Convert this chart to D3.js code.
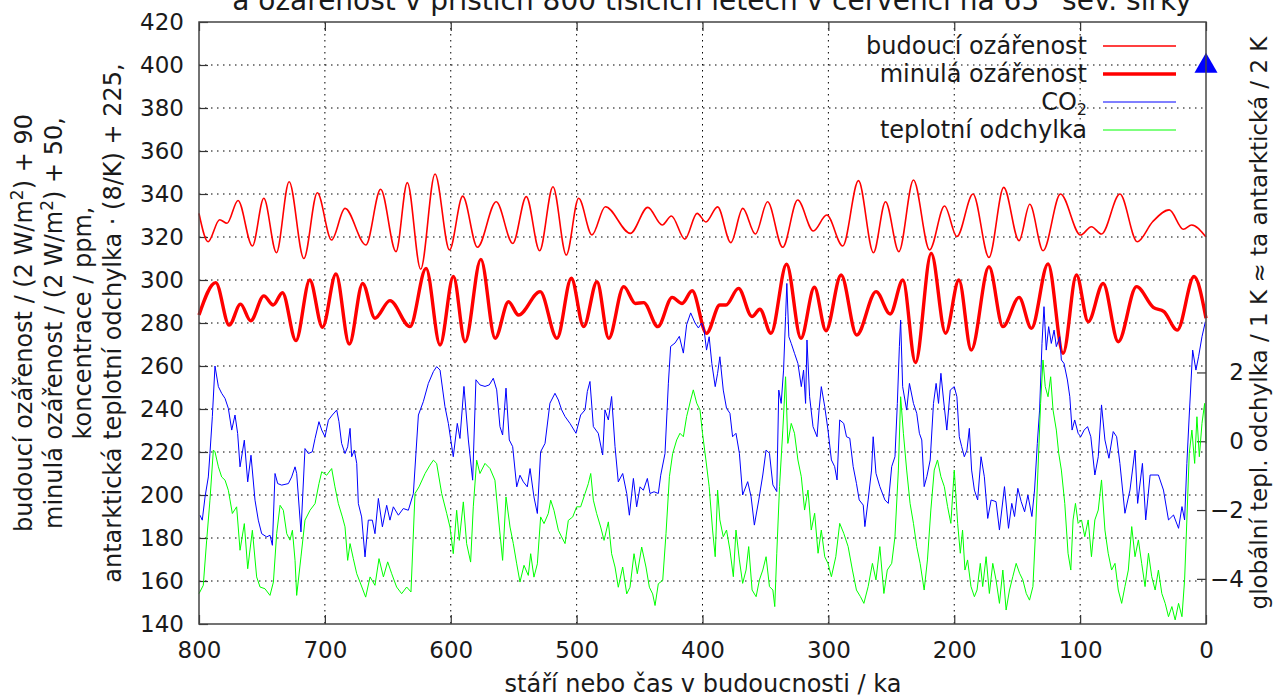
<!DOCTYPE html>
<html lang="cs">
<head>
<meta charset="utf-8">
<title>Ozářenost, CO2 a teplota</title>
<script src="https://d3js.org/d3.v7.min.js"></script>
<style>
  body { margin: 0; background: #fff; }
  svg text { font-family: "DejaVu Sans", sans-serif; fill: #1a1a1a; }
</style>
</head>
<body>
<script>
// ---- data (x = ka, y = value in left-axis units) ----
var xTicks = [800, 700, 600, 500, 400, 300, 200, 100, 0];
var yTicks = [140, 160, 180, 200, 220, 240, 260, 280, 300, 320, 340, 360, 380, 400, 420];
var y2Ticks = [-4, -2, 0, 2];

// budoucí ozářenost / (2 W/m2) + 90
var futureIns = [[800,331],[792.8,317.8],[783.6,328],[777.7,326.4],[769,337],[757.6,315.8],[748.5,338],[738.5,312.7],
  [728.4,345.7],[716.7,310],[706,340.6],[694.7,318.6],[684,333.3],[667.4,316.3],[655.7,342.2],[643.5,313.2],
  [634.5,345.3],[623.9,305],[612.5,349.3],[601,314],[590.5,339],[578.8,315.2],[563.9,336.4],[550.7,317],
  [540,338.8],[529.4,313.6],[518.8,343.4],[508.2,311.6],[498.4,338],[487.8,321],[477.2,334.1],[457.3,321.7],
  [443.5,333.8],[432,325.6],[424.7,329.8],[414,319],[404.3,331],[397.3,327],[388,334],[377.5,317.4],
  [368,333.3],[358,321.4],[348.3,336.4],[336.3,315.2],[324.4,337.2],[312,322.8],[301.3,330.2],[288.6,315.8],
  [276.1,346.2],[264.2,312.7],[254.6,336.4],[244,313.2],[232.4,346.5],[219.6,314],[207.7,334.4],[197.9,320.2],
  [185.1,340],[172.4,310.5],[160.7,343.1],[148.5,318.3],[140,335.2],[129.4,313.6],[115.6,340],[99.7,320.9],
  [91,324.8],[83,321.4],[68.4,340],[54.6,317.8],[42.4,327.1],[29.2,332.6],[18,323.6],[11.4,325.6],[0,320]];

// minulá ozářenost / (2 W/m2) + 50
var pastIns = [[800,283.7],[786.7,298.8],[776,279],[767,288.8],[759,281],[748.5,292.6],[741,288.4],[733.7,294.1],
  [723,271.8],[712,300],[701.9,278],[691.2,302.8],[680.6,270.2],[670,298.4],[660.2,282.2],[648.3,290.4],
  [632.4,278.3],[619.6,305.4],[608.5,269.8],[597.9,301.6],[588.6,271.3],[576.1,309.6],[564.7,272.9],[554.1,289.9],
  [546.2,283.7],[529,294.6],[515.6,272.9],[504.2,300.8],[494.4,278.3],[483.8,299.2],[474.5,272.9],[462.6,296.9],
  [453.3,289.1],[446.7,289.5],[435.5,278.3],[424.1,291.9],[416.2,289.1],[408.2,295],[396.8,275.2],[386.2,288.4],
  [381.4,288.4],[371.4,296.1],[360.7,283],[354.4,286.4],[345.6,275.2],[333.2,307.3],[321.8,272.9],[311.1,296.6],
  [301.9,276.4],[289.9,302.3],[277.5,274.4],[262.1,294.6],[250.9,284.2],[240.8,300],[230.8,261.6],[218.3,312.4],
  [206.9,275.2],[196.3,300],[186.5,267.4],[172.4,306.2],[161.3,278.3],[148.5,291.9],[138.7,277.5],[125.5,307.5],
  [113.5,265.9],[102.9,302.3],[93.6,280.6],[81.7,298.4],[69.7,271.3],[55.2,296.9],[41.9,287.3],[33.4,285.3],
  [22.8,276.7],[9.5,301.6],[0,282.2]];

// CO2 / ppm
var co2 = [[799.2,190.6],[797.4,188.3],[795.2,199.1],[792.6,208.4],[791.3,219.3],[789.4,236.4],[787.3,260],[784.6,250.4],
  [782,247.3],[779.3,244.9],[776.7,240.3],[774,230.2],[771.4,237.2],[769.3,228.6],[767.4,213.1],[764,225.5],
  [761.3,206.1],[758.7,218.5],[755.5,197.6],[752.9,188.3],[750.2,182],[746.2,180.5],[743.6,181.3],[741.7,176.6],
  [739.6,210],[737.5,205.3],[734.3,204.6],[729,205.3],[726.4,208.4],[723.7,213.1],[722.4,210],[719,182.8],
  [715.8,221.6],[713.1,219.3],[710,220.1],[707.8,226.3],[704.7,234.1],[702.5,230.2],[699.9,227.1],[697.2,234.8],
  [694.1,237.2],[690.6,239.5],[688.8,234.1],[686.7,224],[684,219.3],[681.9,222.4],[680,231],[678.7,217.8],
  [676.6,220.9],[674.7,214.7],[673.4,196],[670.8,189.8],[668.1,171.2],[665.5,188.3],[662.3,188.3],[660.2,182],
  [657.5,198.4],[654.3,185.2],[650.9,195.2],[648.3,188.3],[645.6,194.5],[641.6,190.6],[637.7,193.7],[633.7,192.9],
  [629.7,200.7],[625.7,237.2],[621.8,243.4],[617.8,251.9],[613.8,257.4],[611.2,259.7],[608.5,258.1],[604.6,241.1],
  [601.9,233.3],[598,217.8],[594.8,233.3],[592.7,226.3],[589.5,250.5],[586,225.6],[582.6,206.9],[580,253.6],
  [576.8,251.2],[572.8,250.5],[569.4,251.2],[566.2,254.3],[563.5,248.9],[560.9,231.8],[558.8,227.9],[556.1,249.7],
  [553.5,225.6],[550.8,222.5],[547.6,203.8],[545,209.2],[542.3,206.1],[539.2,203.8],[537,212.3],[533.9,199.1],
  [531.2,191.4],[528.6,220.1],[525.1,224],[521.2,242.7],[517.2,247.3],[514.5,244.2],[511.9,239.6],[509.2,236.5],
  [505.3,233.3],[500.5,228.7],[496.8,237.2],[493.3,239.6],[491.5,248.1],[489.4,252.8],[486.7,231.8],[482.8,228.7],
  [479.3,218.6],[477.5,239.6],[474.8,234.9],[472.2,245.8],[469.5,222.5],[466.9,206.1],[463.4,210],[460.2,200.7],
  [458.1,190.6],[454.9,207.7],[452.3,194.5],[449.6,203.8],[447,202.2],[443.8,207.7],[441.7,200.7],[438.5,201.5],
  [435.1,200.7],[433.2,209.2],[429.8,219.3],[427.1,252],[425.3,269.1],[421.8,270.7],[418.4,273.8],[415.2,266],
  [412.6,279.2],[409.4,284.7],[405.9,280],[403.3,277.7],[400.7,280],[398.7,276.7],[396.8,267.4],[394.7,273.6],
  [392.6,261.2],[389.9,250.4],[388,256.6],[386.2,264.3],[383.5,248.8],[380.9,240.3],[378.2,238],[376.1,227.1],
  [373.4,228.7],[370.7,219.4],[368.1,200],[364.1,206.2],[361.4,199.2],[358.8,186],[355.3,197.7],[352.1,209.3],
  [349.5,220.9],[346.8,219.4],[344.1,204.7],[341,201.6],[339.4,248.8],[337.5,242.6],[335.6,258.1],[334,282.9],
  [333,298.4],[331.4,273.6],[329.5,270.5],[326.9,265.9],[324.2,261.2],[321.5,250.4],[319.7,258.1],[318.1,242.6],
  [317,272.1],[314.9,245.7],[312.2,231.8],[309,227.1],[307.4,239.5],[305.6,250.4],[302.9,241.1],[300.3,230.2],
  [297.6,216.3],[295,213.2],[293.1,207],[291,234.9],[287.8,233.3],[285.6,227.1],[283,226.4],[280.3,213.2],
  [277.7,205.4],[275.5,197.7],[272.3,195.3],[271,185.3],[268.4,197.7],[265.7,211.6],[264.4,227.1],[262.2,210.1],
  [259.1,203.9],[255.1,197.7],[252.4,196.1],[249.7,213.2],[247.1,217.8],[245.2,242.6],[243.6,269],[242.6,281.4],
  [241,250.4],[237.8,239.5],[235.6,251.9],[232.4,242.6],[229.8,238],[227.7,228.7],[225.8,225.6],[223.9,203.9],
  [221.8,208.5],[219.1,216.3],[216.5,242.6],[214.4,251.9],[212.5,242.6],[210.6,256.6],[208.5,244.2],[205.9,230.2],
  [203.2,248.8],[200,250.4],[197.9,245.7],[196,227.1],[194.1,222.5],[192,217.8],[189.9,220.9],[188,231],
  [186.2,211.6],[184,202.3],[181.4,197.7],[178.7,217.8],[176.1,208.5],[173.4,189.1],[170.7,197.7],[166.8,196.9],
  [164.1,183.7],[160.1,203.9],[156.9,184.5],[154.3,196.1],[152.1,190],[149.5,203.1],[146.8,196.9],[144.1,192.2],
  [141.5,200],[138.3,190],[136.2,202.3],[134,224],[132.2,239.5],[130.3,270.5],[128.7,287.6],[126.9,267.4],
  [125,278.3],[122.9,270.5],[120.7,276.7],[118.9,269],[116.2,273.6],[114.9,262.8],[112.8,261.2],[110.1,253.5],
  [108.2,245.7],[106.4,230.2],[104.3,234.9],[101.6,228.7],[99.5,227.1],[96.8,230.2],[94.1,231.8],[91.5,227.1],
  [88.3,209.3],[85.6,217.8],[83,241.9],[80.3,225.6],[77.1,217.1],[73.7,229.5],[71,227.1],[68.4,214.7],
  [64.4,191.5],[60.4,202.3],[56.4,220.9],[54.3,196.1],[50.5,214.7],[47.9,188.4],[44.4,209.3],[37.8,209.3],
  [33.8,202.3],[29.8,188.4],[25.8,190.7],[21.8,184.5],[19.1,194.6],[17,188.4],[15.2,214.7],[13.3,237.2],
  [10.6,267.4],[8,258.1],[5.9,264.3],[3.2,273.6],[0.5,280.6]];

// dnešní CO2 (trojúhelník)
var co2Now = [[0, 400]];

// antarktická teplotní odchylka * (8/K) + 225
var temp = [[800,154.1],[796.6,158],[793.9,179],[791.3,197.6],[788.6,220.9],[787.3,220.1],[784.6,213.1],[782,208.4],
  [779.3,206.9],[776.7,202.2],[773.5,191.4],[770.1,194.5],[767.4,174.3],[764,186.7],[761.3,165.7],[757.6,183.6],
  [754.2,161.9],[751.5,157.2],[747.6,156.4],[743.6,153.3],[740.9,159.5],[738.3,182],[735.6,195.2],[733,192.9],
  [730.3,182],[727.7,179],[725.8,183.6],[723.7,169.6],[722.4,153.3],[719,171.2],[715.8,188.3],[711.8,192.9],
  [707.8,196],[704.7,205.3],[702.5,210.8],[698.6,209.2],[694.6,212.3],[692,203.8],[689.3,196],[686.1,189.8],
  [684,185.2],[681.9,169.6],[680,177.4],[677.4,170.4],[674.7,163.4],[672.1,159.5],[667.6,152.5],[664.1,161.9],
  [660.2,158],[657,170.4],[653.5,161.9],[650.1,168.9],[646.9,163.4],[643,157.2],[639,154.1],[635,157.2],
  [631.6,154.9],[628.4,200.7],[625.2,203.8],[620.4,210],[616.5,213.9],[613.8,216.2],[611.2,214.7],[607.2,200.7],
  [603.2,191.4],[600.6,185.1],[598,172.7],[595.3,192.9],[593.2,178.9],[590,196.8],[587.4,177.4],[584.2,168.8],
  [582.1,194.5],[579.4,216.2],[576.8,210],[572.8,214.7],[568.8,212.3],[564.9,206.9],[561.4,185.1],[558.8,169.6],
  [556.1,199.1],[552.9,185.1],[550.3,177.4],[547.6,168],[545,159.5],[541.8,167.3],[538.4,162.6],[536.5,172.7],
  [533.9,161.8],[531.2,168],[528.6,189.8],[525.9,186.7],[522.5,191.4],[520.6,197.6],[518,192.9],[514.5,183.6],
  [511.9,180.5],[509.2,177.4],[506.6,188.2],[503.1,189.8],[500,194.5],[496.8,194.5],[493.3,200.7],[490.7,205.3],
  [488.8,210],[486.7,197.6],[484.1,191.4],[480.9,185.1],[478.2,178.9],[474.8,187.5],[472.2,172.7],[469.5,166.5],
  [466.9,157.1],[463.4,166.5],[460.2,154],[457.6,157.1],[454.4,172.7],[451.8,163.4],[448.3,175.8],[444.9,166.5],
  [442.2,157.1],[439.6,154],[437.7,148.6],[435.1,158.7],[431.6,160.3],[429,182],[426.3,208.5],[423.7,219.3],
  [420.5,225.6],[417.9,228.7],[415.2,227.1],[412.6,236.5],[409.4,244.2],[407.3,248.9],[404.6,242.7],[402,239.6],
  [400,228.7],[397.3,216.3],[394.7,203.9],[392,183.7],[389.9,171.3],[388,202.3],[386.2,188.4],[383.5,180.6],
  [380.9,183.7],[378.2,174.4],[375.5,162],[373.4,183.7],[370.7,169.8],[368.1,158.9],[365.4,165.1],[363.3,176],
  [360.6,155.8],[357.4,152.7],[354.8,160.5],[352.1,165.1],[349.5,171.3],[346.8,157.4],[344.1,155.8],[342.6,148.1],
  [341,172.9],[338.8,203.9],[336.2,230.2],[334,255],[332.2,224],[329.5,233.3],[326.9,228.7],[324.2,216.3],
  [321.5,208.5],[318.9,193],[316.2,202.3],[313.6,183.7],[310.9,191.5],[308.2,172.9],[305.6,183.7],[302.9,171.3],
  [300.3,168.2],[297.6,162],[294.1,171.3],[291,186.8],[287.8,182.2],[284.3,176],[280.9,165.1],[277.7,155.8],
  [274.5,152.7],[271.8,149.6],[268.4,157.4],[265,168.2],[262.2,160.5],[259.1,176],[255.9,154.2],[253.2,165.1],
  [249.7,168.2],[247.1,180.6],[244.4,211.6],[242.6,245.7],[240.4,228.7],[237.8,211.6],[235.1,196.1],[232.4,186.8],
  [229.8,176],[227.1,168.2],[223.9,155.8],[221.3,169.8],[218.6,193],[215.9,211.6],[213.3,216.3],[210.6,208.5],
  [207.9,203.9],[205.3,194.6],[202.7,186.8],[200,211.6],[197.3,186.8],[195.2,172.9],[193.4,183.7],[191.5,165.1],
  [189.4,169.8],[186.7,157.4],[184,152.7],[181.9,155.8],[179.3,168.2],[177.4,157.4],[174.7,171.3],[172.1,154.2],
  [169.4,168.2],[166.8,160.5],[164.1,149.6],[161.4,165.1],[158.8,146.5],[156.1,155.8],[153.5,162],[150.8,168.2],
  [148.1,163.6],[145.5,160.5],[142.8,154.2],[140.2,151.1],[137.5,157.4],[135.6,180.6],[133.5,211.6],[131.4,242.6],
  [129.5,262.8],[127.7,250.4],[125.5,245.7],[123.4,255],[121.5,239.5],[118.9,230.2],[117,219.4],[114.9,211.6],
  [112.2,196.1],[109.6,172.9],[107.4,165.1],[105.6,188.4],[103.7,196.1],[101.6,186.8],[98.9,188.4],[96.3,180.6],
  [93.6,188.4],[91,171.3],[88.3,188.4],[85.6,193],[83,207],[80.3,183.7],[77.7,172.9],[75,165.1],
  [72.3,168.2],[69.7,155.8],[67,149.6],[64.4,157.4],[61.7,165.1],[59,185.3],[56.4,171.3],[53.7,179.1],
  [51.1,168.2],[48.4,157.4],[45.7,172.9],[43.1,162],[40.4,155.8],[37.8,165.1],[35.1,154.2],[32.4,149.6],
  [29.8,143.4],[27.1,148.1],[24.5,141.9],[21.8,149.6],[19.1,143.4],[17,160.5],[15.2,188.4],[13.3,219.4],
  [11.2,230.2],[9,214.7],[7.2,236.4],[5.3,217.8],[3.2,233.3],[1.1,242.6],[0,224]];

var legendNames = ["budoucí ozářenost", "minulá ozářenost", "CO", "teplotní odchylka"];

// ---- layout ----
var w = 1273, h = 699;
var padL = 199, padR = 1206, padT = 22, padB = 624;
var red = "#ff0000", blue = "#0000ff", green = "#00ff00", ink = "#1a1a1a";

var x = d3.scaleLinear().domain([800, 0]).range([padL, padR]);
var y = d3.scaleLinear().domain([140, 420]).range([padB, padT]);
// global temp. anomaly: left value = 225 + 16 * dT
var y2 = d3.scaleLinear().domain([(140 - 225) / 16, (420 - 225) / 16]).range([padB, padT]);

var svg = d3.select("body").append("svg")
  .attr("width", w).attr("height", h);

// grid
var grid = svg.append("g").attr("stroke", "#000").attr("stroke-width", 1)
  .attr("stroke-dasharray", "1.5,4.5");
grid.selectAll(".gy").data(yTicks.slice(1, -1)).enter().append("line")
  .attr("x1", padL).attr("x2", padR).attr("y1", d => y(d)).attr("y2", d => y(d));
grid.selectAll(".gx").data(xTicks.slice(1, -1)).enter().append("line")
  .attr("y1", padT).attr("y2", padB).attr("x1", d => x(d)).attr("x2", d => x(d));

// axes
function styleAxis(g) {
  g.select(".domain").remove();
  g.attr("font-family", null).attr("font-size", null);
  g.selectAll("line").attr("stroke", "#333").attr("stroke-width", 1.2);
  g.selectAll("text").style("font-size", "23px").attr("fill", ink);
}
svg.append("g").attr("transform", "translate(" + padL + ",0)")
  .call(d3.axisLeft(y).tickValues(yTicks).tickSize(-9).tickPadding(15))
  .call(styleAxis);
svg.append("g").attr("transform", "translate(0," + padB + ")")
  .call(d3.axisBottom(x).tickValues(xTicks).tickSize(-9).tickPadding(18))
  .call(styleAxis);
svg.append("g").attr("transform", "translate(0," + padT + ")")
  .call(d3.axisTop(x).tickValues(xTicks).tickSize(-9).tickFormat(""))
  .call(styleAxis);
svg.append("g").attr("transform", "translate(" + padR + ",0)")
  .call(d3.axisRight(y2).tickValues(y2Ticks).tickSize(-9).tickFormat(d3.format("d")))
  .call(styleAxis)
  .selectAll("text").attr("text-anchor", "end").attr("x", 38);

// lines
var smooth = d3.line().x(d => x(d[0])).y(d => y(d[1])).curve(d3.curveMonotoneX);
var plain = d3.line().x(d => x(d[0])).y(d => y(d[1]));

svg.append("path").attr("d", smooth(futureIns)).attr("fill", "none")
  .attr("stroke", red).attr("stroke-width", 1.6);
svg.append("path").attr("d", smooth(pastIns)).attr("fill", "none")
  .attr("stroke", red).attr("stroke-width", 3.4).attr("stroke-linejoin", "round");
svg.append("path").attr("d", plain(co2)).attr("fill", "none")
  .attr("stroke", blue).attr("stroke-width", 1);
svg.append("path").attr("d", plain(temp)).attr("fill", "none")
  .attr("stroke", green).attr("stroke-width", 1);

// present CO2 marker
svg.selectAll(".now").data(co2Now).enter().append("path")
  .attr("d", d3.symbol().type(d3.symbolTriangle).size(230))
  .attr("transform", d => "translate(" + x(d[0]) + "," + (y(d[1]) + 1) + ")")
  .attr("fill", blue);

// border
svg.append("rect").attr("x", padL).attr("y", padT)
  .attr("width", padR - padL).attr("height", padB - padT)
  .attr("fill", "none").attr("stroke", "#444").attr("stroke-width", 1.5);

// legend
var legendStyles = [[red, 1.6], [red, 3.4], [blue, 1], [green, 1]];
var lg = svg.append("g");
legendNames.forEach(function(name, i) {
  var cy = 46 + i * 28;
  var t = lg.append("text").attr("x", 1087).attr("y", cy + 8)
    .attr("text-anchor", "end").style("font-size", "24px").text(name);
  if (name === "CO") {
    t.append("tspan").attr("dy", 5).style("font-size", "16px").text("2");
  }
  lg.append("line").attr("x1", 1103).attr("x2", 1176).attr("y1", cy).attr("y2", cy)
    .attr("stroke", legendStyles[i][0]).attr("stroke-width", legendStyles[i][1]);
});

// title (second line, top cut off by the page edge)
svg.append("text").attr("x", 712).attr("y", 10).attr("text-anchor", "middle")
  .style("font-size", "28px")
  .text("a ozářenost v příštích 800 tisících letech v červenci na 65° sev. šířky");

// x label
svg.append("text").attr("x", 703).attr("y", 692).attr("text-anchor", "middle")
  .style("font-size", "24px").text("stáří nebo čas v budoucnosti / ka");

// left y label (four lines)
var yLab = [
  ["budoucí ozářenost / (2 W/m", "2", ") + 90"],
  ["minulá ozářenost / (2 W/m", "2", ") + 50,"],
  ["koncentrace / ppm,"],
  ["antarktická teplotní odchylka · (8/K) + 225,"]
];
yLab.forEach(function(parts, i) {
  var bx = 32 + i * 29.5;
  var t = svg.append("text")
    .attr("transform", "translate(" + bx + "," + ((padT + padB) / 2) + ") rotate(-90)")
    .attr("text-anchor", "middle").style("font-size", "24px");
  t.append("tspan").text(parts[0]);
  if (parts.length > 1) {
    t.append("tspan").attr("dy", -9).style("font-size", "17px").text(parts[1]);
    t.append("tspan").attr("dy", 9).text(parts[2]);
  }
});

// right y label
svg.append("text")
  .attr("transform", "translate(1267," + ((padT + padB) / 2) + ") rotate(-90)")
  .attr("text-anchor", "middle").style("font-size", "23px")
  .text("globální tepl. odchylka / 1 K ≈ ta antarktická / 2 K");
</script>
</body>
</html>
